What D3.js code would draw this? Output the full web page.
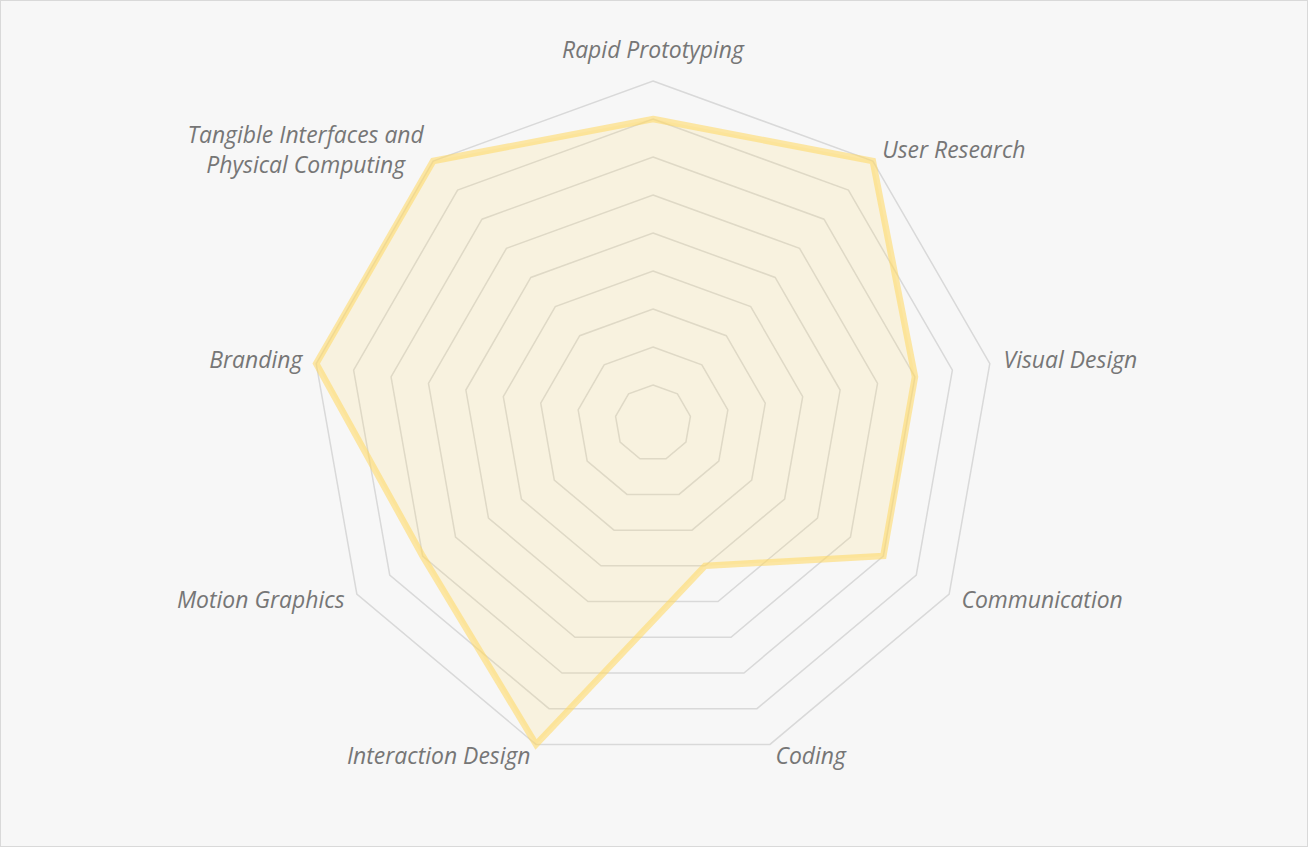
<!DOCTYPE html>
<html>
<head>
<meta charset="utf-8">
<script src="https://cdn.jsdelivr.net/npm/d3@7"></script>
<style>
  html, body { margin: 0; padding: 0; background: #ffffff; }
  svg { display: block; }
</style>
</head>
<body>
<svg id="chart" width="1308" height="847"></svg>
<script>
// ---- data ----
const categories = [
  "Rapid Prototyping", "User Research", "Visual Design", "Communication",
  "Coding", "Interaction Design", "Motion Graphics", "Branding",
  "Tangible Interfaces and\nPhysical Computing"
];
const values = [8, 9, 7, 7, 4, 9, 7, 9, 9];
const levels = [1, 2, 3, 4, 5, 6, 7, 8, 9];
const maxValue = 9;

// ---- layout ----
const W = 1308, H = 847;
const cx = 653, cy = 423, R = 342;
const svg = d3.select("#chart");

svg.append("rect").attr("x", 0.5).attr("y", 0.5).attr("width", W - 1).attr("height", H - 1)
  .attr("fill", "#f7f7f7").attr("stroke", "#d9d9d9").attr("stroke-width", 1);

const g = svg.append("g").attr("transform", `translate(${cx},${cy})`);
const n = categories.length;
const angle = d3.scaleLinear().domain([0, n]).range([0, 2 * Math.PI]);
const r = d3.scaleLinear().domain([0, maxValue]).range([0, R]);

const radial = d3.lineRadial()
  .angle((d, i) => angle(i))
  .radius(d => r(d))
  .curve(d3.curveLinearClosed);

// grid rings
g.append("g").selectAll("path").data(levels).join("path")
  .attr("d", lv => radial(d3.range(n).map(() => lv)))
  .attr("fill", "none")
  .attr("stroke", "#d9d9d9")
  .attr("stroke-width", 1.5);

// data area
g.append("path")
  .attr("d", radial(values))
  .attr("fill", "#ffd966").attr("fill-opacity", 0.16)
  .attr("stroke", "#ffd966").attr("stroke-opacity", 0.58)
  .attr("stroke-width", 6.5)
  .attr("stroke-linejoin", "miter");

// labels
const labelG = svg.append("g")
  .style("font-family", "'Open Sans', Lato, sans-serif")
  .style("font-style", "italic")
  .style("font-size", "20px")
  .attr("fill", "#767676");

// fit font size so "Rapid Prototyping" spans ~182px like the reference
{
  const probe = labelG.append("text").text(categories[0]);
  const w = probe.node().getComputedTextLength();
  probe.remove();
  const fs = Math.max(16, Math.min(23.5, 20 * 182 / w));
  labelG.style("font-size", fs + "px");
}

categories.forEach((name, i) => {
  const a = angle(i);
  const vx = cx + Math.sin(a) * R, vy = cy - Math.cos(a) * R;
  const s = Math.sin(a), c = -Math.cos(a);
  const lines = name.split("\n");
  const t = labelG.append("text");
  if (Math.abs(s) < 0.1) {
    t.attr("x", vx).attr("y", vy - 23).attr("text-anchor", "middle").text(name);
    return;
  }
  const ax = vx + s * 13 + (s > 0 ? 1 : -1) * 1;
  const ay = vy + c * 13;
  if (lines.length === 1) {
    t.attr("x", ax).attr("y", ay + 7).attr("text-anchor", s > 0 ? "start" : "end").text(name);
  } else {
    const widths = lines.map(l => {
      const tt = labelG.append("text").text(l);
      const w = tt.node().getComputedTextLength();
      tt.remove();
      return w;
    });
    const bw = d3.max(widths);
    const mid = s > 0 ? ax + bw / 2 : ax - bw / 2;
    const lh = 30;
    const top = ay + 7 - (lines.length - 1) * lh / 2;
    lines.forEach((l, k) => {
      t.append("tspan").attr("x", mid).attr("y", top + k * lh).attr("text-anchor", "middle").text(l);
    });
  }
});
</script>
</body>
</html>
